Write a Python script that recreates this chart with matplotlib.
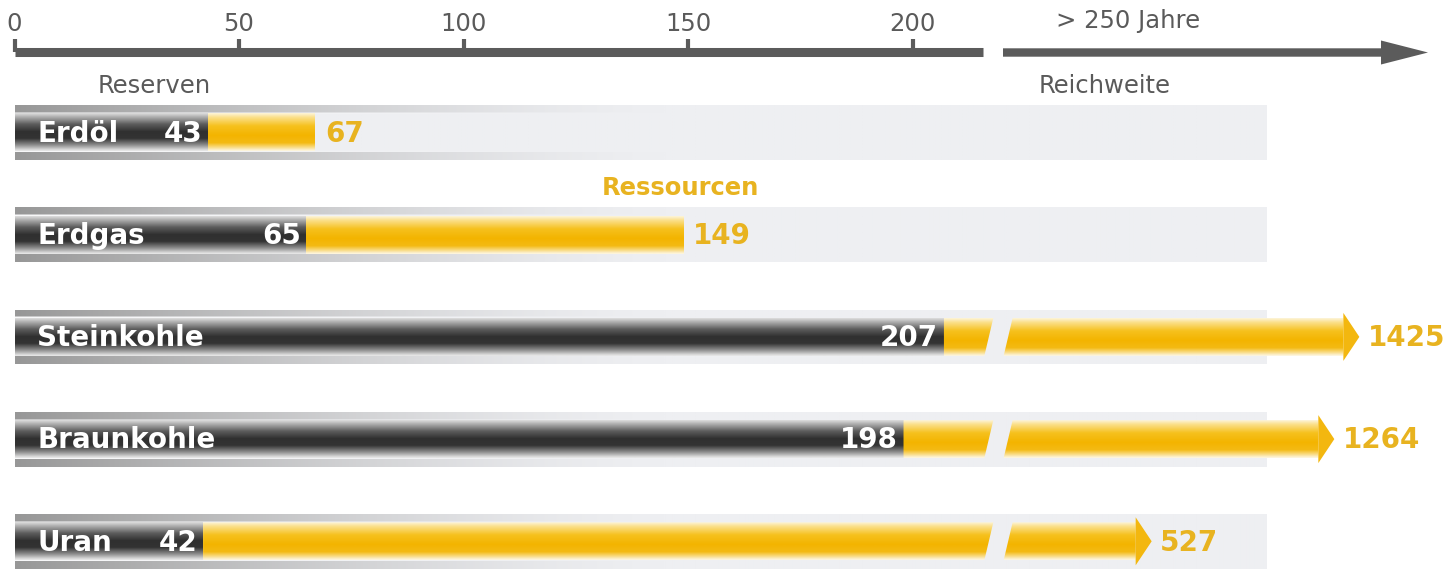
import numpy as np
import matplotlib
matplotlib.use("Agg")
import matplotlib.pyplot as plt
from matplotlib.patches import Polygon, PathPatch
from matplotlib.path import Path
import matplotlib.transforms as mtransforms
from matplotlib.colors import to_rgb

# ---------------- data ----------------
categories = ["Erdöl", "Erdgas", "Steinkohle", "Braunkohle", "Uran"]
reserves = [43, 65, 207, 198, 42]          # Reserven (Jahre)
resources = [67, 149, 1425, 1264, 527]     # Ressourcen (Jahre)
tick_values = [0, 50, 100, 150, 200]
tick_labels = ["0", "50", "100", "150", "200"]
long_label = "> 250 Jahre"

# ---------------- broken scale ----------------
LIN_END = 217.0      # end of linear part
GAP_U = 4.3          # width of the break (scale units)
LONG_START = 265.0   # start of compressed part
K = 46.5             # log compression


def forward(v):
    v = np.asarray(v, float)
    U2 = LIN_END + GAP_U
    with np.errstate(divide="ignore", invalid="ignore"):
        out = np.where(v <= LIN_END, v,
                       np.where(v < LONG_START,
                                LIN_END + (v - LIN_END) * GAP_U / (LONG_START - LIN_END),
                                U2 + K * np.log(np.maximum(v, LONG_START) / LONG_START)))
    return out


def inverse(u):
    u = np.asarray(u, float)
    U2 = LIN_END + GAP_U
    with np.errstate(over="ignore", invalid="ignore"):
        out = np.where(u <= LIN_END, u,
                       np.where(u < U2,
                                LIN_END + (u - LIN_END) * (LONG_START - LIN_END) / GAP_U,
                                LONG_START * np.exp((np.maximum(u, U2) - U2) / K)))
    return out


# ---------------- layout ----------------
W, H = 1447, 569
PX0, PXU = 14.5, 4.49          # pixel of value 0, pixels per scale unit
ROW0, STEP = 132.5, 102.2      # pixel of first row centre, row spacing


def py2y(py):
    return (py - ROW0) / STEP


def px2fig(x, y):
    return (x / W, 1 - y / H)


BAR_HALF = 19 / STEP
BAND_HALF = 27.5 / STEP
HEAD_U = 16 / PXU
HEAD_HALF = 24 / STEP
SLANT = 1.0

GOLD = "#E8B320"
GREY_TXT = "#5a5a5a"
AXIS_COL = "#5b5b5b"

fig = plt.figure(figsize=(W / 100, H / 100), dpi=100)
ax = fig.add_axes([0, 0, 1, 1])
ax.patch.set_visible(False)
ax.set_xscale("function", functions=(forward, inverse))

blend = mtransforms.blended_transform_factory(ax.transAxes, ax.transData)


def hex_grad(stops, n=80):
    pos = np.linspace(0, 1, n)
    sp = [s[0] for s in stops]
    cols = np.array([to_rgb(s[1]) for s in stops])
    rgb = np.stack([np.interp(pos, sp, cols[:, k]) for k in range(3)], axis=1)
    img = np.ones((n, 2, 4))
    img[:, :, :3] = rgb[:, None, :]
    return img


dark_img = hex_grad([(0, "#e2e2e2"), (0.1, "#b4b4b4"), (0.3, "#5e5e5e"), (0.5, "#303030"),
                     (0.68, "#333333"), (0.86, "#8e8e8e"), (1, "#e4e4e4")])
yel_img = hex_grad([(0, "#fdf6e0"), (0.12, "#fbe08c"), (0.35, "#f6c11e"), (0.6, "#f3b400"),
                    (0.8, "#f4ba14"), (0.92, "#f9dc86"), (1, "#fdf4da")])

# band background image (light grey with fading grey stripes)
bw, bh = 600, 110
xs = np.linspace(PX0, 1267, bw)
hx = np.clip(1 - (xs - PX0) / 650, 0, 1) ** 1.5
rel = np.linspace(0, 55, bh)
stripe = ((rel <= 8) | (rel >= 47.5)).astype(float)
lightline = (((rel > 8) & (rel < 9.5)) | ((rel > 46) & (rel < 47.5))).astype(float)
base = np.array(to_rgb("#eeeff2"))
sdark = np.array(to_rgb("#979797"))
white = np.array(to_rgb("#f8f8f9"))
band = np.ones((bh, bw, 4))
for k in range(3):
    scol = base[k] * (1 - hx) + sdark[k] * hx
    band[:, :, k] = (base[k] * (1 - stripe[:, None] - lightline[:, None] * hx[None, :])
                     + scol[None, :] * stripe[:, None]
                     + white[k] * lightline[:, None] * hx[None, :])


def rect_verts(x0, x1, yt, yb):
    return [(x0, yt), (x1, yt), (x1, yb), (x0, yb)]


for i, (name, res, val) in enumerate(zip(categories, reserves, resources)):
    yc = i
    yt, yb = yc - BAR_HALF, yc + BAR_HALF

    # band
    ax.imshow(band, extent=(PX0 / W, 1267 / W, yc + BAND_HALF, yc - BAND_HALF),
              transform=blend, aspect="auto", interpolation="bilinear", zorder=1)

    # reserves (dark bar)
    clip_d = Polygon(rect_verts(0, res, yt, yb), closed=True, transform=ax.transData)
    im = ax.imshow(dark_img, extent=(0, 1, yb, yt), transform=blend, aspect="auto",
                   interpolation="bilinear", zorder=2)
    im.set_clip_path(clip_d)

    # resources (yellow bar)
    u_res = float(forward(res))
    u_val = float(forward(val))
    if val <= LIN_END:
        polys = [rect_verts(res, val, yt, yb)]
        head = None
    else:
        u2 = LIN_END + GAP_U
        seg1_u = [(u_res, yt), (LIN_END + SLANT, yt), (LIN_END - SLANT, yb), (u_res, yb)]
        seg2_u = [(u2 + SLANT, yt), (u_val - HEAD_U, yt), (u_val - HEAD_U, yb), (u2 - SLANT, yb)]
        polys = [[(float(inverse(u)), y) for u, y in seg] for seg in (seg1_u, seg2_u)]
        hb = float(inverse(u_val - HEAD_U))
        head = [(hb, yc - HEAD_HALF), (val, yc), (hb, yc + HEAD_HALF)]
    paths = [Path(p + [p[0]], closed=True) for p in polys]
    cpath = Path.make_compound_path(*paths)
    clip_y = PathPatch(cpath, transform=ax.transData)
    im2 = ax.imshow(yel_img, extent=(0, 1, yb, yt), transform=blend, aspect="auto",
                    interpolation="bilinear", zorder=2)
    im2.set_clip_path(clip_y)
    if head is not None:
        ax.add_patch(Polygon(head, closed=True, facecolor="#f3b70f", edgecolor="none", zorder=2))

    # texts
    ax.annotate(name, xy=(0, yc), xytext=(16.5, -1), textcoords="offset points",
                ha="left", va="center", color="white", fontsize=20, fontweight="bold", zorder=3)
    ax.annotate(str(res), xy=(res, yc), xytext=(-4, -1), textcoords="offset points",
                ha="right", va="center", color="white", fontsize=20, fontweight="bold", zorder=3)
    ax.annotate(str(val), xy=(val, yc), xytext=(6 if head is not None else 7, -1),
                textcoords="offset points", ha="left", va="center", color=GOLD,
                fontsize=20, fontweight="bold", zorder=3)

# ---------------- top axis ----------------
for s in ("bottom", "left", "right"):
    ax.spines[s].set_visible(False)
sp = ax.spines["top"]
sp.set_position(("data", py2y(52.5)))
sp.set_bounds(0, (983 - PX0) / PXU)
sp.set_linewidth(6.5)
sp.set_color(AXIS_COL)
sp.set_capstyle("butt")
ax.set_xticks(tick_values)
ax.set_xticklabels(tick_labels)
ax.xaxis.set_ticks_position("top")
ax.xaxis.set_label_position("top")
ax.tick_params(axis="x", which="major", direction="out", length=9.5, width=3,
               color=AXIS_COL, pad=2.5, labelsize=17.5, labelcolor=GREY_TXT)
ax.tick_params(axis="x", which="minor", length=0)
ax.set_yticks([])

# right arrow "> 250 Jahre"
shaft_t, shaft_b = 48.3, 56.7
arrow_px = [(1003, shaft_t), (1381, shaft_t), (1381, 40.5), (1428, 52.5),
            (1381, 64.5), (1381, shaft_b), (1003, shaft_b)]
fig.add_artist(Polygon([px2fig(x, y) for x, y in arrow_px], closed=True,
                       transform=fig.transFigure, facecolor=AXIS_COL, edgecolor="none"))
fig.text(*px2fig(1128, 21), long_label, ha="center", va="center", fontsize=17.5, color=GREY_TXT)
fig.text(*px2fig(154, 86), "Reserven", ha="center", va="center", fontsize=17.5, color=GREY_TXT)
fig.text(*px2fig(1105, 86), "Reichweite", ha="center", va="center", fontsize=17.5, color=GREY_TXT)
fig.text(*px2fig(680, 188), "Ressourcen", ha="center", va="center", fontsize=17.5,
         color=GOLD, fontweight="semibold")

# limits
ax.set_xlim(float(inverse(-PX0 / PXU)), float(inverse((W - PX0) / PXU)))
ax.set_ylim(py2y(H), py2y(0))

fig.savefig("out.png", dpi=100, facecolor="white")
